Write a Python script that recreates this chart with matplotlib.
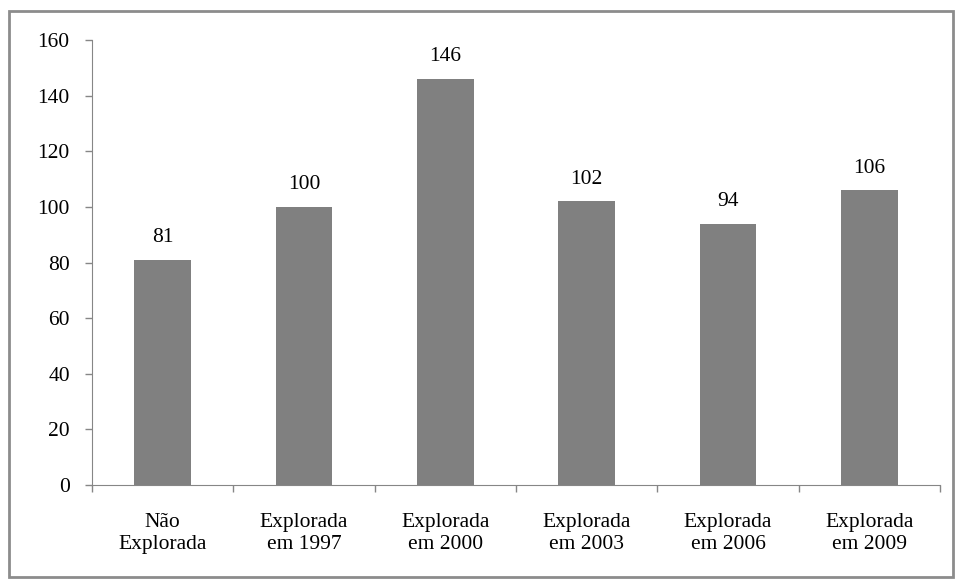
import numpy as np
import matplotlib.pyplot as plt
from matplotlib.patches import Rectangle

categories = ['Não\nExplorada', 'Explorada\nem 1997', 'Explorada\nem 2000',
              'Explorada\nem 2003', 'Explorada\nem 2006', 'Explorada\nem 2009']
values = [81, 100, 146, 102, 94, 106]
yticks = [0, 20, 40, 60, 80, 100, 120, 140, 160]

plt.rcParams['font.family'] = ['Liberation Serif', 'DejaVu Serif']
fs = 15.5

fig = plt.figure(figsize=(9.55, 5.79), dpi=100)
ax = fig.add_axes([92/955, 1-485/579, 848/955, 445/579])

x = np.arange(len(categories))
bars = ax.bar(x, values, width=0.4, color='#808080', zorder=2)
for b, v in zip(bars, values):
    ax.annotate(str(v), (b.get_x() + b.get_width()/2, v), xytext=(0, 9),
                textcoords='offset points', ha='center', va='bottom', fontsize=fs)

ax.set_xlim(-0.5, len(categories) - 0.5)
ax.set_ylim(0, 160)
ax.set_yticks(yticks)
ax.set_yticklabels([str(t) for t in yticks], fontsize=fs)
ax.set_xticks(x)
ax.set_xticklabels(categories, fontsize=fs, linespacing=1.2)
ax.set_xticks(np.arange(-0.5, len(categories)), minor=True)
ax.tick_params(axis='x', which='major', length=0, pad=20)
ax.tick_params(axis='x', which='minor', length=5, color='#868686', width=1)
ax.tick_params(axis='y', length=5, color='#868686', width=1, pad=11)

for s in ['top', 'right']:
    ax.spines[s].set_visible(False)
for s in ['left', 'bottom']:
    ax.spines[s].set_color('#868686')

# outer frame around the chart area
fig.patches.append(Rectangle((9/955, 1-577/579), 944/955, 566/579,
                             transform=fig.transFigure, fill=False,
                             edgecolor='#8c8c8c', linewidth=2))

fig.savefig('out.png', dpi=100)
